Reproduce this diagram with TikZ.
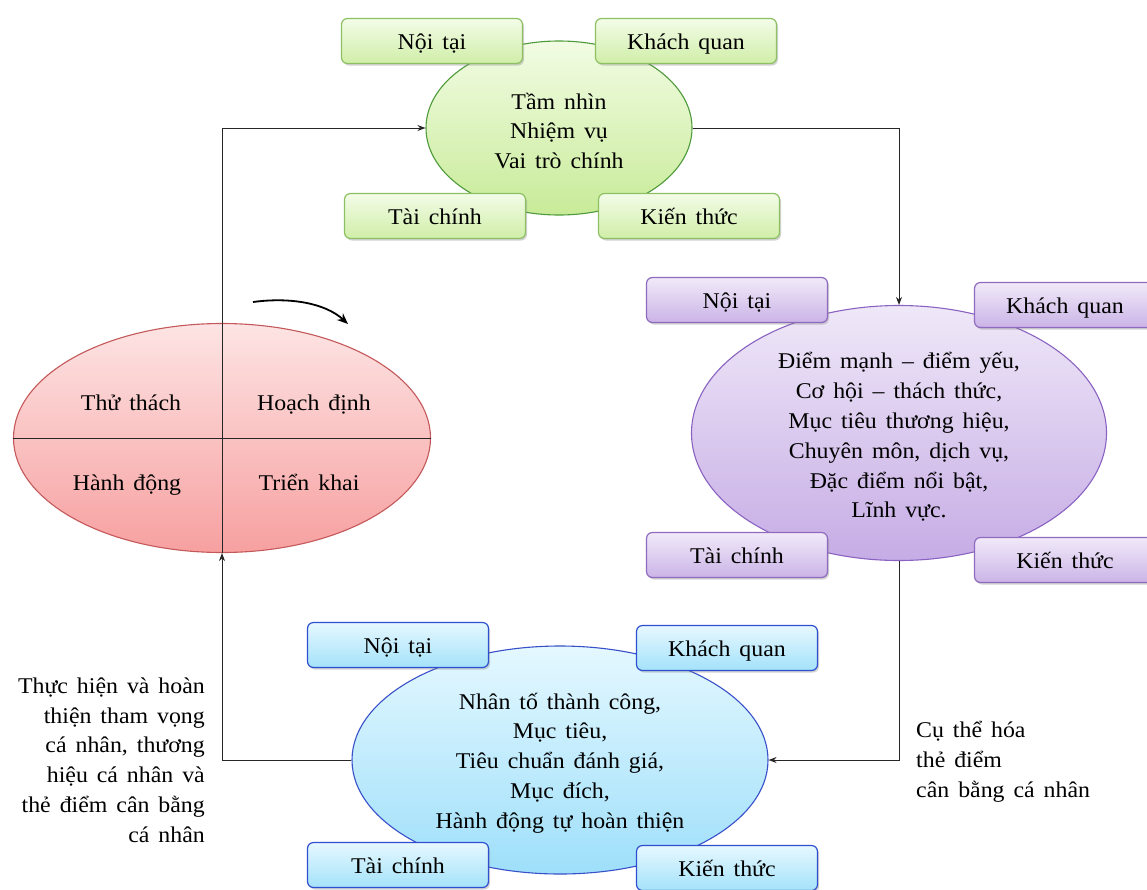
\documentclass[tikz,border=0pt]{standalone}
\usepackage{fontspec}
\setmainfont[FakeStretch=1.06,WordSpace=1.5]{Liberation Serif}
\usetikzlibrary{shapes.geometric,shadows,arrows.meta}
\definecolor{gboxT}{HTML}{F3FCE8}\definecolor{gboxB}{HTML}{D0EEA8}\definecolor{gboxD}{HTML}{8DC063}
\definecolor{gellT}{HTML}{F2FCE4}\definecolor{gellB}{HTML}{C8EB98}\definecolor{gellD}{HTML}{4E9A3A}
\definecolor{pboxT}{HTML}{F1EAF9}\definecolor{pboxB}{HTML}{CBB4E7}\definecolor{pboxD}{HTML}{8E6BBF}
\definecolor{pellT}{HTML}{EFE8F8}\definecolor{pellB}{HTML}{C6ACE5}\definecolor{pellD}{HTML}{8A63C2}
\definecolor{bboxT}{HTML}{E6F8FF}\definecolor{bboxB}{HTML}{A4E2FA}\definecolor{bboxD}{HTML}{2E4FD0}
\definecolor{bellT}{HTML}{E4F8FF}\definecolor{bellB}{HTML}{9EDFFA}\definecolor{bellD}{HTML}{3850C8}
\definecolor{rellT}{HTML}{FDE4E4}\definecolor{rellB}{HTML}{F7A0A0}\definecolor{rellD}{HTML}{C4585A}
\tikzset{
  txt/.style={font=\fontsize{22.5}{29.8}\selectfont, text=black},
  lbl/.style={txt, text height=20pt, text depth=5pt},
  box/.style={txt, text height=21pt, text depth=5pt, rectangle, rounded corners=6pt, minimum width=181pt, minimum height=45pt, inner sep=0pt,
     line width=1.2pt, drop shadow={shadow xshift=1.5pt, shadow yshift=-2pt, opacity=0.35}},
  gbox/.style={box, draw=gboxD, top color=gboxT, bottom color=gboxB},
  pbox/.style={box, draw=pboxD, top color=pboxT, bottom color=pboxB},
  bbox/.style={box, draw=bboxD, top color=bboxT, bottom color=bboxB},
  ell/.style={ellipse, inner sep=0pt, line width=1.1pt},
  etxt/.style={txt, align=center, inner sep=0pt},
  conn/.style={line width=1pt, draw=black!85, -{Stealth[length=8pt,width=6pt]}},
}
\begin{document}
\begin{tikzpicture}[x=1pt,y=-1pt]
\useasboundingbox[fill=white] (0,0) rectangle (1147,889);

% ellipses
\node[ell, draw=rellD, top color=rellT, bottom color=rellB, minimum width=417pt, minimum height=229pt] (r) at (222,438) {};
\node[ell, draw=gellD, top color=gellT, bottom color=gellB, minimum width=266pt, minimum height=174pt] (g) at (559,128) {};
\node[ell, draw=pellD, top color=pellT, bottom color=pellB, minimum width=415pt, minimum height=255pt] (p) at (899,433) {};
\node[ell, draw=bellD, top color=bellT, bottom color=bellB, minimum width=416pt, minimum height=228pt] (b) at (560,760) {};

% ellipse texts
\node[etxt] (gt) at (559,131) {Tầm nhìn\\Nhiệm vụ\\Vai trò chính};
\node[etxt] (pt) at (899,437) {Điểm mạnh -- điểm yếu,\\Cơ hội -- thách thức,\\Mục tiêu thương hiệu,\\Chuyên môn, dịch vụ,\\Đặc điểm nổi bật,\\Lĩnh vực.};
\node[etxt] (bt) at (560,763) {Nhân tố thành công,\\Mục tiêu,\\Tiêu chuẩn đánh giá,\\Mục đích,\\Hành động tự hoàn thiện};

% red quadrant labels
\node[lbl] (q1) at (131,402.5) {Thử thách};
\node[lbl] (q2) at (314,402.5) {Hoạch định};
\node[lbl] (q3) at (127,482.5) {Hành động};
\node[lbl] (q4) at (309,482.5) {Triển khai};

% connectors
\draw[line width=1pt, black!85] (r.west) -- (r.east);
\draw[conn] (b.west) -| (r.south);
\draw[conn] (r.south) |- (g.west);
\draw[conn] (g.east) -| (p.north);
\draw[conn] (p.south) |- (b.east);

% curved arrow
\coordinate (c1) at (253,302);
\coordinate (c2) at (348,324);
\draw[line width=1.8pt, -{Stealth[length=11pt,width=9pt]}] (c1) .. controls (290,297) and (325,303) .. (c2);

% green boxes
\node[gbox] (g1) at (432,41) {Nội tại};
\node[gbox] (g2) at (686,41) {Khách quan};
\node[gbox] (g3) at (435,216) {Tài chính};
\node[gbox] (g4) at (689,216) {Kiến thức};

% purple boxes
\node[pbox] (p1) at (737,300) {Nội tại};
\node[pbox] (p2) at (1065,305) {Khách quan};
\node[pbox] (p3) at (737,555) {Tài chính};
\node[pbox] (p4) at (1065,560) {Kiến thức};

% blue boxes
\node[bbox] (b1) at (398,645) {Nội tại};
\node[bbox] (b2) at (727,648) {Khách quan};
\node[bbox] (b3) at (398,865) {Tài chính};
\node[bbox] (b4) at (727,868) {Kiến thức};

% side texts
\node[txt, align=right, anchor=east, inner sep=0pt] (lt) at (205,760) {Thực hiện và hoàn\\thiện tham vọng\\cá nhân, thương\\hiệu cá nhân và\\thẻ điểm cân bằng\\cá nhân};
\node[txt, align=left, anchor=west, inner sep=0pt] (rt) at (916,761.5) {Cụ thể hóa\\thẻ điểm\\cân bằng cá nhân};
\end{tikzpicture}
\end{document}
